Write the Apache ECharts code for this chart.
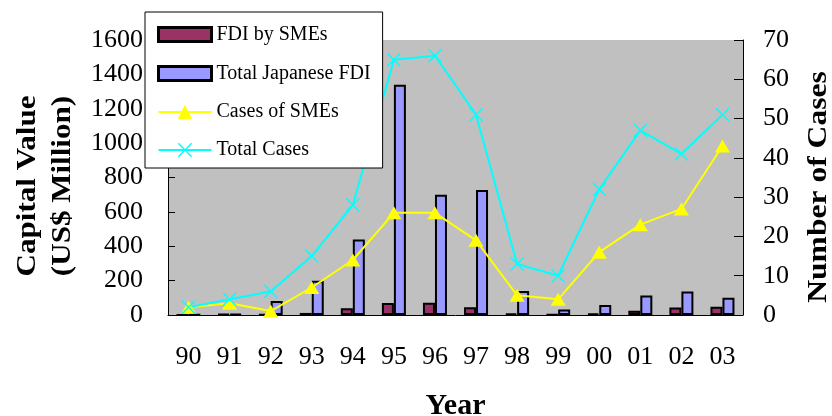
<!DOCTYPE html>
<html>
<head>
<meta charset="utf-8">
<script src="https://cdn.jsdelivr.net/npm/echarts@6/dist/echarts.min.js"></script>
<style>html,body{margin:0;padding:0;background:#fff;}#c{width:832px;height:416px;}</style>
</head>
<body>
<div id="c"></div>
<script>
const years = ['90','91','92','93','94','95','96','97','98','99','00','01','02','03'];
const smeFDI = [0, 5, 3, 12, 40, 70, 72, 45, 8, 3, 8, 25, 43, 48];
const totalFDI = [2, 6, 82, 200, 440, 1340, 700, 728, 140, 32, 58, 113, 137, 101];
const smeCases = [2, 3, 1, 7, 14, 26, 26, 19, 5, 4, 16, 23, 27, 43];
const totalCases = [2, 4, 6, 15, 28, 65, 66, 51, 13, 10, 32, 47, 41, 51];
const leftTicks = [0, 1600, 200];
const rightTicks = [0, 70, 10];

const FONT = 'Liberation Serif';
const X_PATH = 'path://M0,1 L1,0 L7,6 L13,0 L14,1 L8,7 L14,13 L13,14 L7,8 L1,14 L0,13 L6,7 Z';
const RECT_ICON = 'path://M0,0 L0,0 M0,2 L53,2 L53,16 L0,16 Z M53,18 L53,18';
const chart = echarts.init(document.getElementById('c'));
chart.setOption({
  animation: false,
  textStyle: { fontFamily: FONT, color: '#000' },
  grid: { left: 168, right: 89, top: 40, bottom: 101, show: true, backgroundColor: '#C0C0C0', borderWidth: 0, outerBoundsMode: 'none', containLabel: false },
  legend: {
    left: 145, top: 12, orient: 'vertical',
    backgroundColor: '#fff', borderColor: '#000', borderWidth: 1,
    padding: [12, 12, 8, 12], itemGap: 18, itemWidth: 53, itemHeight: 18,
    textStyle: { fontFamily: FONT, fontSize: 20, color: '#000' },
    data: [
      { name: 'FDI by SMEs', icon: RECT_ICON, itemStyle: { borderColor: '#000', borderWidth: 3 } },
      { name: 'Total Japanese FDI', icon: RECT_ICON, itemStyle: { borderColor: '#000', borderWidth: 3 } },
      'Cases of SMEs', 'Total Cases'
    ]
  },
  graphic: [{
    type: 'text', x: 46, y: 186, rotation: Math.PI / 2, scaleX: 1.15,
    style: { text: 'Capital Value\n(US$ Million)', font: 'bold 27px "Liberation Serif"', fill: '#000', align: 'center', verticalAlign: 'middle', lineHeight: 35 }
  }, {
    type: 'text', x: 819, y: 187, rotation: Math.PI / 2, scaleX: 1.17,
    style: { text: 'Number of Cases', font: 'bold 27px "Liberation Serif"', fill: '#000', align: 'center', verticalAlign: 'middle' }
  }],
  xAxis: {
    type: 'category', data: years,
    name: 'Year', nameLocation: 'middle', nameGap: 76,
    nameTextStyle: { fontFamily: FONT, fontSize: 30, fontWeight: 'bold', color: '#000' },
    axisLine: { lineStyle: { color: '#000', width: 1 } },
    axisTick: { inside: true, length: 8, lineStyle: { color: '#000' } },
    axisLabel: { fontFamily: FONT, fontSize: 26, color: '#000', margin: 29 }
  },
  yAxis: [{
    type: 'value', min: leftTicks[0], max: leftTicks[1], interval: leftTicks[2],
    axisLine: { show: true, lineStyle: { color: '#000', width: 1 } },
    axisTick: { show: true, inside: true, length: 7, lineStyle: { color: '#000' } },
    axisLabel: { fontFamily: FONT, fontSize: 26, color: '#000', margin: 25, formatter: v => String(v) },
    splitLine: { show: false }
  }, {
    type: 'value', min: rightTicks[0], max: rightTicks[1], interval: rightTicks[2],
    axisLine: { show: true, lineStyle: { color: '#000', width: 1 } },
    axisTick: { show: true, inside: true, length: 9, lineStyle: { color: '#000' } },
    axisLabel: { fontFamily: FONT, fontSize: 26, color: '#000', margin: 20, formatter: v => String(v) },
    splitLine: { show: false }
  }],
  series: [{
    name: 'FDI by SMEs', type: 'bar', data: smeFDI, barWidth: 12, barGap: '0%',
    itemStyle: { color: '#993366', borderColor: '#000', borderWidth: 2 }
  }, {
    name: 'Total Japanese FDI', type: 'bar', data: totalFDI, barWidth: 12, barGap: '0%',
    itemStyle: { color: '#9999FF', borderColor: '#000', borderWidth: 2 }
  }, {
    name: 'Cases of SMEs', type: 'line', yAxisIndex: 1, data: smeCases,
    symbol: 'triangle', symbolSize: [15, 13],
    lineStyle: { color: '#FFFF00', width: 2 }, itemStyle: { color: '#FFFF00' }
  }, {
    name: 'Total Cases', type: 'line', yAxisIndex: 1, data: totalCases,
    symbol: X_PATH, symbolSize: 14,
    lineStyle: { color: '#00FFFF', width: 2 }, itemStyle: { color: '#00FFFF' }
  }]
});
</script>
</body>
</html>
